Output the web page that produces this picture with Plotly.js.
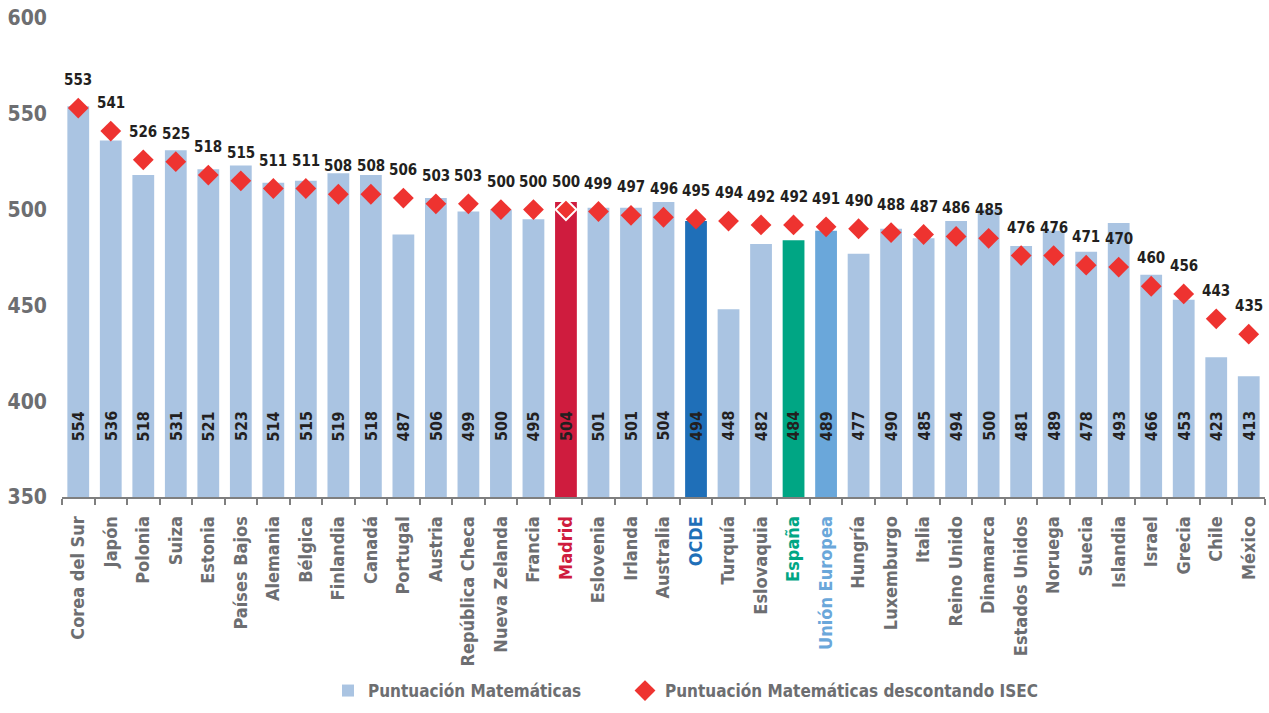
<!DOCTYPE html>
<html><head><meta charset="utf-8">
<script src="https://cdn.plot.ly/plotly-3.0.1.min.js"></script>
<style>html,body{margin:0;padding:0;background:#fff}#chart{width:1269px;height:713px}</style>
</head><body><div id="chart"></div>
<script>
const categories = ["Corea del Sur","Japón","Polonia","Suiza","Estonia","Países Bajos","Alemania","Bélgica","Finlandia","Canadá","Portugal","Austria","República Checa","Nueva Zelanda","Francia","Madrid","Eslovenia","Irlanda","Australia","OCDE","Turquía","Eslovaquia","España","Unión Europea","Hungría","Luxemburgo","Italia","Reino Unido","Dinamarca","Estados Unidos","Noruega","Suecia","Islandia","Israel","Grecia","Chile","México"];
const puntuacion = [554,536,518,531,521,523,514,515,519,518,487,506,499,500,495,504,501,501,504,494,448,482,484,489,477,490,485,494,500,481,489,478,493,466,453,423,413];
const descontandoISEC = [553,541,526,525,518,515,511,511,508,508,506,503,503,500,500,500,499,497,496,495,494,492,492,491,490,488,487,486,485,476,476,471,470,460,456,443,435];
const seriesNames = ["Puntuación Matemáticas","Puntuación Matemáticas descontando ISEC"];

const FONT = '"DejaVu Sans Condensed","Liberation Sans Narrow","Roboto",sans-serif';
const highlight = {"Madrid":"#cf1c3e","OCDE":"#1f6fb8","España":"#00a684","Unión Europea":"#6aa7da"};
const barBase = "#aac4e2";
const barColors = categories.map(c => highlight[c] || barBase);
const tickText = categories.map(c => highlight[c] ? `<span style="color:${highlight[c]}">${c}</span>` : c);

const bars = {
  type:'bar', x:categories, y:puntuacion, name:seriesNames[0], legend:'legend',
  marker:{color:barColors}, hoverinfo:'x+y'
};
const diamonds = {
  type:'scatter', mode:'markers', x:categories, y:descontandoISEC, name:seriesNames[1], legend:'legend2',
  marker:{symbol:'diamond', size:16, color:'#ee3330',
    line:{color:categories.map(c => c==="Madrid" ? "#ffffff" : "#ee3330"),
          width:categories.map(c => c==="Madrid" ? 2 : 0)}},
  cliponaxis:false
};

const valFont = {family:FONT, size:15, color:'#231f20', weight:'bold'};
const barAnn = categories.map((c,i) => ({
  x:c, y:387, xref:'x', yref:'y', text:String(puntuacion[i]), showarrow:false,
  textangle:-90, font:{family:FONT, size:16, color:'#231f20', weight:'bold'}
}));
const diaAnn = categories.map((c,i) => ({
  x:c, y:descontandoISEC[i], xref:'x', yref:'y', text:String(descontandoISEC[i]), showarrow:false,
  yshift:28, font:valFont
}));

const legFont = {family:FONT, size:17, color:'#6d6e71', weight:'bold'};
const layout = {
  width:1269, height:713,
  margin:{l:62, r:4, t:18, b:208},
  paper_bgcolor:'#fff', plot_bgcolor:'#fff',
  bargap:0.33, showlegend:true,
  xaxis:{type:'category', range:[-0.5, categories.length-0.5], tickvals:categories, ticktext:tickText, tickangle:-90,
    showline:true, linecolor:'#7f7f7f', linewidth:2, ticks:'outside', tickson:'boundaries',
    ticklen:6, tickcolor:'#7f7f7f', tickwidth:2, showgrid:false, zeroline:false, ticklabelstandoff:10,
    tickfont:{family:FONT, size:18, color:'#6d6e71', weight:'bold'}, fixedrange:true},
  yaxis:{range:[350,600], tickvals:[350,400,450,500,550,600], showgrid:false, zeroline:false,
    showline:false, ticks:'', ticklabelstandoff:14,
    tickfont:{family:FONT, size:21, color:'#6d6e71', weight:'bold'}},
  legend:{orientation:'h', x:(328-62)/1203, xanchor:'left', y:-0.405, yanchor:'middle', font:legFont},
  legend2:{orientation:'h', x:(625-62)/1203, xanchor:'left', y:-0.405, yanchor:'middle', font:legFont},
  annotations:barAnn.concat(diaAnn)
};
Plotly.newPlot('chart',[bars,diamonds],layout,{displayModeBar:false,staticPlot:true});
</script></body></html>
